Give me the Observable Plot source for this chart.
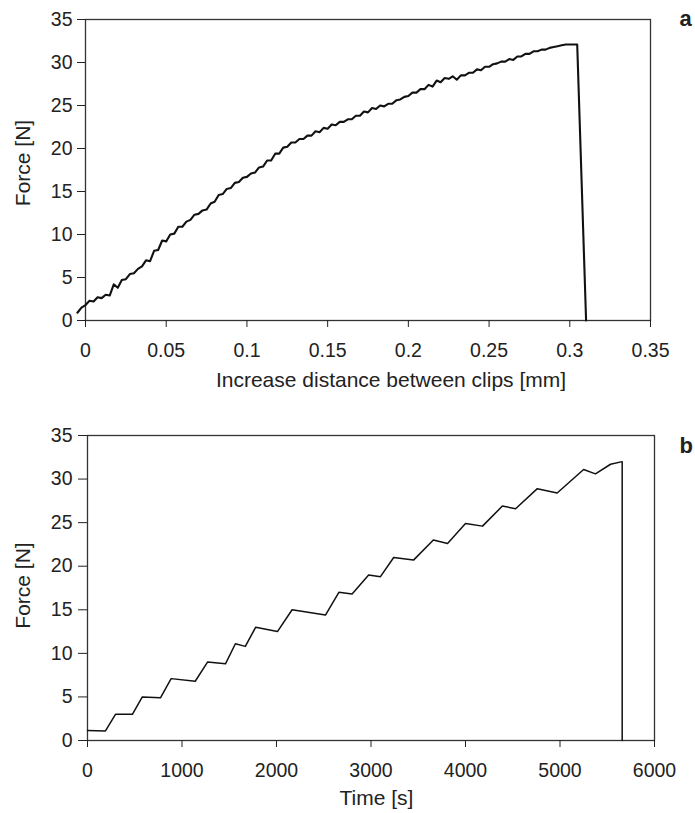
<!DOCTYPE html>
<html>
<head>
<meta charset="utf-8">
<script src="https://cdn.jsdelivr.net/npm/d3@7"></script>
<script src="https://cdn.jsdelivr.net/npm/@observablehq/plot@0.6"></script>
<style>
  body { margin: 0; background: #fff; }
  #chart { width: 695px; }
  #chart svg { display: block; }
</style>
</head>
<body>
<div id="chart"></div>
<script>
// ---------- Panel a: force vs. increase of distance between clips ----------
const distA = [
  -0.005, -0.0025, 0, 0.0025, 0.005, 0.0075, 0.01, 0.0125, 0.015, 0.0175,
  0.02, 0.0225, 0.025, 0.0275, 0.03, 0.0325, 0.035, 0.0375, 0.04, 0.0425,
  0.045, 0.0475, 0.05, 0.0525, 0.055, 0.0575, 0.06, 0.0625, 0.065, 0.0675,
  0.07, 0.0725, 0.075, 0.0775, 0.08, 0.0825, 0.085, 0.0875, 0.09, 0.0925,
  0.095, 0.0975, 0.1, 0.1025, 0.105, 0.1075, 0.11, 0.1125, 0.115, 0.1175,
  0.12, 0.1225, 0.125, 0.1275, 0.13, 0.1325, 0.135, 0.1375, 0.14, 0.1425,
  0.145, 0.1475, 0.15, 0.1525, 0.155, 0.1575, 0.16, 0.1625, 0.165, 0.1675,
  0.17, 0.1725, 0.175, 0.1775, 0.18, 0.1825, 0.185, 0.1875, 0.19, 0.1925,
  0.195, 0.1975, 0.2, 0.2025, 0.205, 0.2075, 0.21, 0.2125, 0.215, 0.2175,
  0.22, 0.2225, 0.225, 0.2275, 0.23, 0.2325, 0.235, 0.2375, 0.24, 0.2425,
  0.245, 0.2475, 0.25, 0.2525, 0.255, 0.2575, 0.26, 0.2625, 0.265, 0.2675,
  0.27, 0.2725, 0.275, 0.2775, 0.28, 0.2825, 0.285, 0.2875, 0.29, 0.2925,
  0.295, 0.2975, 0.3, 0.3046, 0.3101
];
const forceA = [
  0.9, 1.5, 1.8, 2.3, 2.2, 2.7, 2.6, 3.0, 2.9, 4.2,
  3.8, 4.7, 4.8, 5.4, 5.5, 6.0, 6.3, 7.0, 6.9, 8.1,
  8.2, 9.3, 9.2, 10.0, 10.1, 10.9, 10.9, 11.5, 11.7, 12.3,
  12.4, 12.8, 12.9, 13.6, 13.8, 14.6, 14.7, 15.3, 15.4, 16.0,
  16.1, 16.6, 16.7, 17.1, 17.2, 17.8, 17.9, 18.6, 18.6, 19.4,
  19.4, 20.1, 20.2, 20.7, 20.7, 21.1, 21.1, 21.5, 21.5, 22.0,
  21.9, 22.4, 22.3, 22.8, 22.7, 23.1, 23.1, 23.4, 23.4, 23.8,
  23.8, 24.3, 24.2, 24.7, 24.6, 25.0, 24.9, 25.2, 25.2, 25.6,
  25.7, 26.0, 26.1, 26.5, 26.5, 26.9, 26.9, 27.4, 27.2, 27.9,
  27.7, 28.2, 28.1, 28.4, 28.0, 28.5, 28.5, 28.8, 28.8, 29.2,
  29.1, 29.5, 29.5, 29.8, 29.9, 30.1, 30.1, 30.4, 30.3, 30.7,
  30.7, 31.0, 31.0, 31.3, 31.3, 31.5, 31.5, 31.7, 31.8, 31.9,
  32.0, 32.1, 32.1, 32.1, 0
];

// ---------- Panel b: force vs. time ----------
const timeB = [
  0, 190, 296, 475, 580, 772, 885, 1140, 1270, 1460,
  1565, 1670, 1780, 2010, 2165, 2518, 2660, 2800, 2975, 3100,
  3240, 3450, 3660, 3810, 4000, 4180, 4390, 4530, 4760, 4970,
  5250, 5375, 5535, 5658, 5658
];
const forceB = [
  1.15, 1.1, 3.0, 3.0, 5.0, 4.9, 7.1, 6.8, 9.0, 8.8,
  11.1, 10.8, 13.0, 12.5, 15.0, 14.4, 17.0, 16.8, 19.0, 18.8,
  21.0, 20.7, 23.0, 22.6, 24.9, 24.6, 26.9, 26.6, 28.9, 28.4,
  31.1, 30.6, 31.7, 32.0, 0
];

// ---------- Ticks and labels ----------
const xTicksA = [0, 0.05, 0.1, 0.15, 0.2, 0.25, 0.3, 0.35];
const xTicksB = [0, 1000, 2000, 3000, 4000, 5000, 6000];
const yTicks = [0, 5, 10, 15, 20, 25, 30, 35];
const xLabelA = "Increase distance between clips [mm]";
const xLabelB = "Time [s]";
const yLabel = "Force [N]";
const tags = ["a", "b"];

const dataA = distA.map((d, i) => ({x: d, y: forceA[i]}));
const dataB = timeB.map((d, i) => ({x: d, y: forceB[i]}));

const FONT = "'Liberation Sans', Arial, Helvetica, sans-serif";
const INK = "#222";

function panel(o) {
  return Plot.plot({
    width: 695,
    height: o.height,
    marginTop: o.mt, marginBottom: o.mb, marginLeft: o.ml, marginRight: o.mr,
    style: {fontFamily: FONT, fontSize: "19.5px", color: INK, background: "#fff", overflow: "visible"},
    x: {domain: o.xDomain, ticks: o.xTicks, tickFormat: o.xFormat, label: null},
    y: {domain: [0, 35], ticks: yTicks, tickFormat: d => String(d), label: null},
    marks: [
      Plot.frame({stroke: "#333", strokeWidth: 1.3}),
      Plot.axisX({ticks: o.xTicks, tickFormat: o.xFormat, tickSize: 7, tickPadding: 16, label: null, fontSize: 19.5}),
      Plot.axisY({ticks: yTicks, tickSize: o.yTickSize, tickPadding: o.yTickPad, label: null, fontSize: 19.5}),
      Plot.line(o.data, {x: "x", y: "y", stroke: "#111", strokeWidth: o.lineWidth, strokeLinejoin: "round"}),
      Plot.text([o.xLabel], {frameAnchor: "bottom", textAnchor: "middle", lineAnchor: "top", dy: o.xLabelDy, dx: o.xLabelDx, fontSize: 21, fill: INK}),
      Plot.text([yLabel], {frameAnchor: "left", rotate: -90, textAnchor: "middle", lineAnchor: "middle", dx: o.yLabelDx, dy: o.yLabelDy, fontSize: 21, fill: INK}),
      Plot.text([o.tag], {frameAnchor: "top-right", textAnchor: "start", lineAnchor: "top", dx: o.tagDx, dy: o.tagDy, fontSize: 22, fontWeight: "bold", fill: INK})
    ]
  });
}

const chart = document.getElementById("chart");
chart.append(panel({
  height: 400, mt: 19, mb: 80, ml: 85, mr: 45,
  xDomain: [0, 0.35], xTicks: xTicksA, xFormat: d => String(+d.toFixed(2)),
  yTickSize: 8, yTickPad: 5, data: dataA, lineWidth: 2.1,
  xLabel: xLabelA, xLabelDy: 52, xLabelDx: 23,
  yLabelDx: -62, yLabelDy: -7,
  tag: tags[0], tagDx: 29, tagDy: -9.6
}));
chart.append(panel({
  height: 413, mt: 35, mb: 73, ml: 87, mr: 41,
  xDomain: [0, 6000], xTicks: xTicksB, xFormat: d => String(d),
  yTickSize: 9, yTickPad: 6, data: dataB, lineWidth: 1.5,
  xLabel: xLabelB, xLabelDy: 50, xLabelDx: 5.5,
  yLabelDx: -64, yLabelDy: -2.5,
  tag: tags[1], tagDx: 25, tagDy: 1.4
}));
</script>
</body>
</html>
